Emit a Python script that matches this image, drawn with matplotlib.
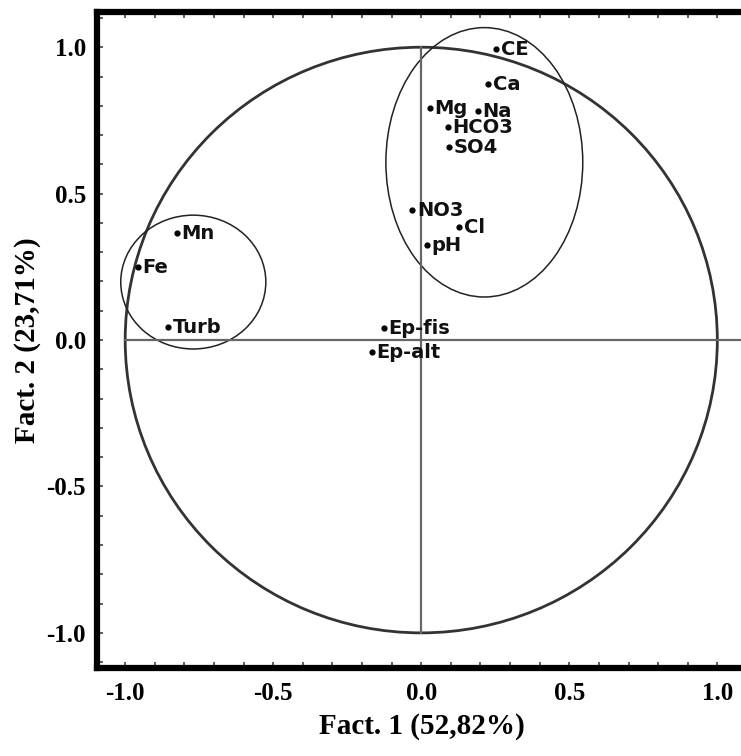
import numpy as np
import matplotlib
matplotlib.use('Agg')
import matplotlib.pyplot as plt
from matplotlib.patches import Ellipse, Circle
from matplotlib.ticker import MultipleLocator

plt.rcParams['axes.unicode_minus'] = False

# variable loadings on factors 1 and 2
names = ['CE', 'Ca', 'Mg', 'Na', 'HCO3', 'SO4', 'NO3', 'Cl', 'pH',
         'Mn', 'Fe', 'Turb', 'Ep-fis', 'Ep-alt']
fact1 = [0.253, 0.226, 0.030, 0.190, 0.091, 0.095, -0.030, 0.128, 0.020,
         -0.824, -0.956, -0.855, -0.125, -0.166]
fact2 = [0.993, 0.874, 0.792, 0.782, 0.727, 0.659, 0.444, 0.386, 0.324,
         0.365, 0.249, 0.044, 0.041, -0.041]

# group ellipses: center x, center y, width, height
groups = [(0.213, 0.607, 0.665, 0.92), (-0.77, 0.198, 0.49, 0.457)]

fig = plt.figure(figsize=(7.41, 7.56), dpi=100)
ax = fig.add_axes([0.131, 0.1164, 0.877, 0.8676])

ax.add_patch(Circle((0, 0), 1.0, fill=False, ec='#333333', lw=2.0))
ax.plot([-1.0, 1.2], [0, 0], color='#666666', lw=1.6)
ax.plot([0, 0], [-1.0, 1.0], color='#666666', lw=1.6)

for cx, cy, w, h in groups:
    ax.add_patch(Ellipse((cx, cy), w, h, fill=False, ec='#222222', lw=1.1))

ax.scatter(fact1, fact2, s=12, color='black', zorder=3)
for n, x, y in zip(names, fact1, fact2):
    ax.text(x + 0.015, y, n, fontsize=14, fontweight='bold', family='DejaVu Sans',
            va='center', ha='left', color='#111111', zorder=4)

ax.set_xlim(-1.095, 1.10)
ax.set_ylim(-1.12, 1.12)
ax.set_xticks([-1.0, -0.5, 0.0, 0.5, 1.0])
ax.set_yticks([-1.0, -0.5, 0.0, 0.5, 1.0])
ax.xaxis.set_minor_locator(MultipleLocator(0.1))
ax.yaxis.set_minor_locator(MultipleLocator(0.1))
ax.tick_params(which='both', direction='in', top=True, right=False, length=4,
               width=1.2, color='#444444')
ax.tick_params(axis='x', which='major', pad=10)
ax.tick_params(axis='y', which='major', pad=8)
for lab in ax.get_xticklabels() + ax.get_yticklabels():
    lab.set_fontsize(18)
    lab.set_fontweight('bold')
    lab.set_family('Liberation Serif')

for side in ['left', 'top', 'bottom']:
    ax.spines[side].set_linewidth(4.5)
ax.spines['right'].set_visible(False)

ax.set_xlabel('Fact. 1 (52,82%)', fontsize=21, fontweight='bold',
              family='Liberation Serif', labelpad=6)
ax.set_ylabel('Fact. 2 (23,71%)', fontsize=21, fontweight='bold',
              family='Liberation Serif', labelpad=4)

plt.savefig('out.png', dpi=100)
